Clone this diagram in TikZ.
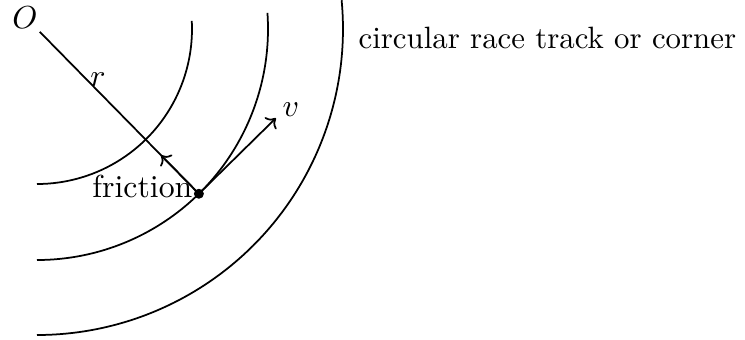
\documentclass[tikz,border=0pt]{standalone}
\usetikzlibrary{calc,arrows.meta}
\begin{document}
\begin{tikzpicture}[x=0.3145pt,y=0.3145pt,
  track/.style={line width=0.55pt},
  arr/.style={line width=0.55pt,-{To[length=2.6pt,width=5.2pt]}},
  lbl/.style={inner sep=0pt}]
\useasboundingbox (0,0) rectangle (745,-339);
\coordinate (C) at (37,-29);
% track arcs
\draw[track] ($(C)+(3:155)$) arc[start angle=3,end angle=-90,radius=155];
\draw[track] ($(C)+(4:231)$) arc[start angle=4,end angle=-90,radius=231];
\draw[track] ($(C)+(5.4:306)$) arc[start angle=5.4,end angle=-90,radius=306];
% car
\coordinate (P) at ($(C)+(-45.5:231)$);
\coordinate (S) at ($(C)+(-45.5:4)$);
\draw[track] (S) -- (P);
\coordinate (F) at ($(P)+(134.5:54)$);
\coordinate (V) at ($(P)+(44.5:108)$);
\draw[arr] (P) -- (F);
\draw[arr] (P) -- (V);
\fill (P) circle[radius=5];
\node[lbl,anchor=base] (O) at (25,-28) {$O$};
\node[lbl] (r) at (98,-80) {$r$};
\node[lbl,anchor=base west] (v) at (282,-116) {$v$};
\node[lbl,anchor=base east] (fr) at (193,-197) {friction};
\node[lbl,anchor=base west,scale=0.97] (txt) at (358,-48) {circular race track or corner};
\end{tikzpicture}
\end{document}
